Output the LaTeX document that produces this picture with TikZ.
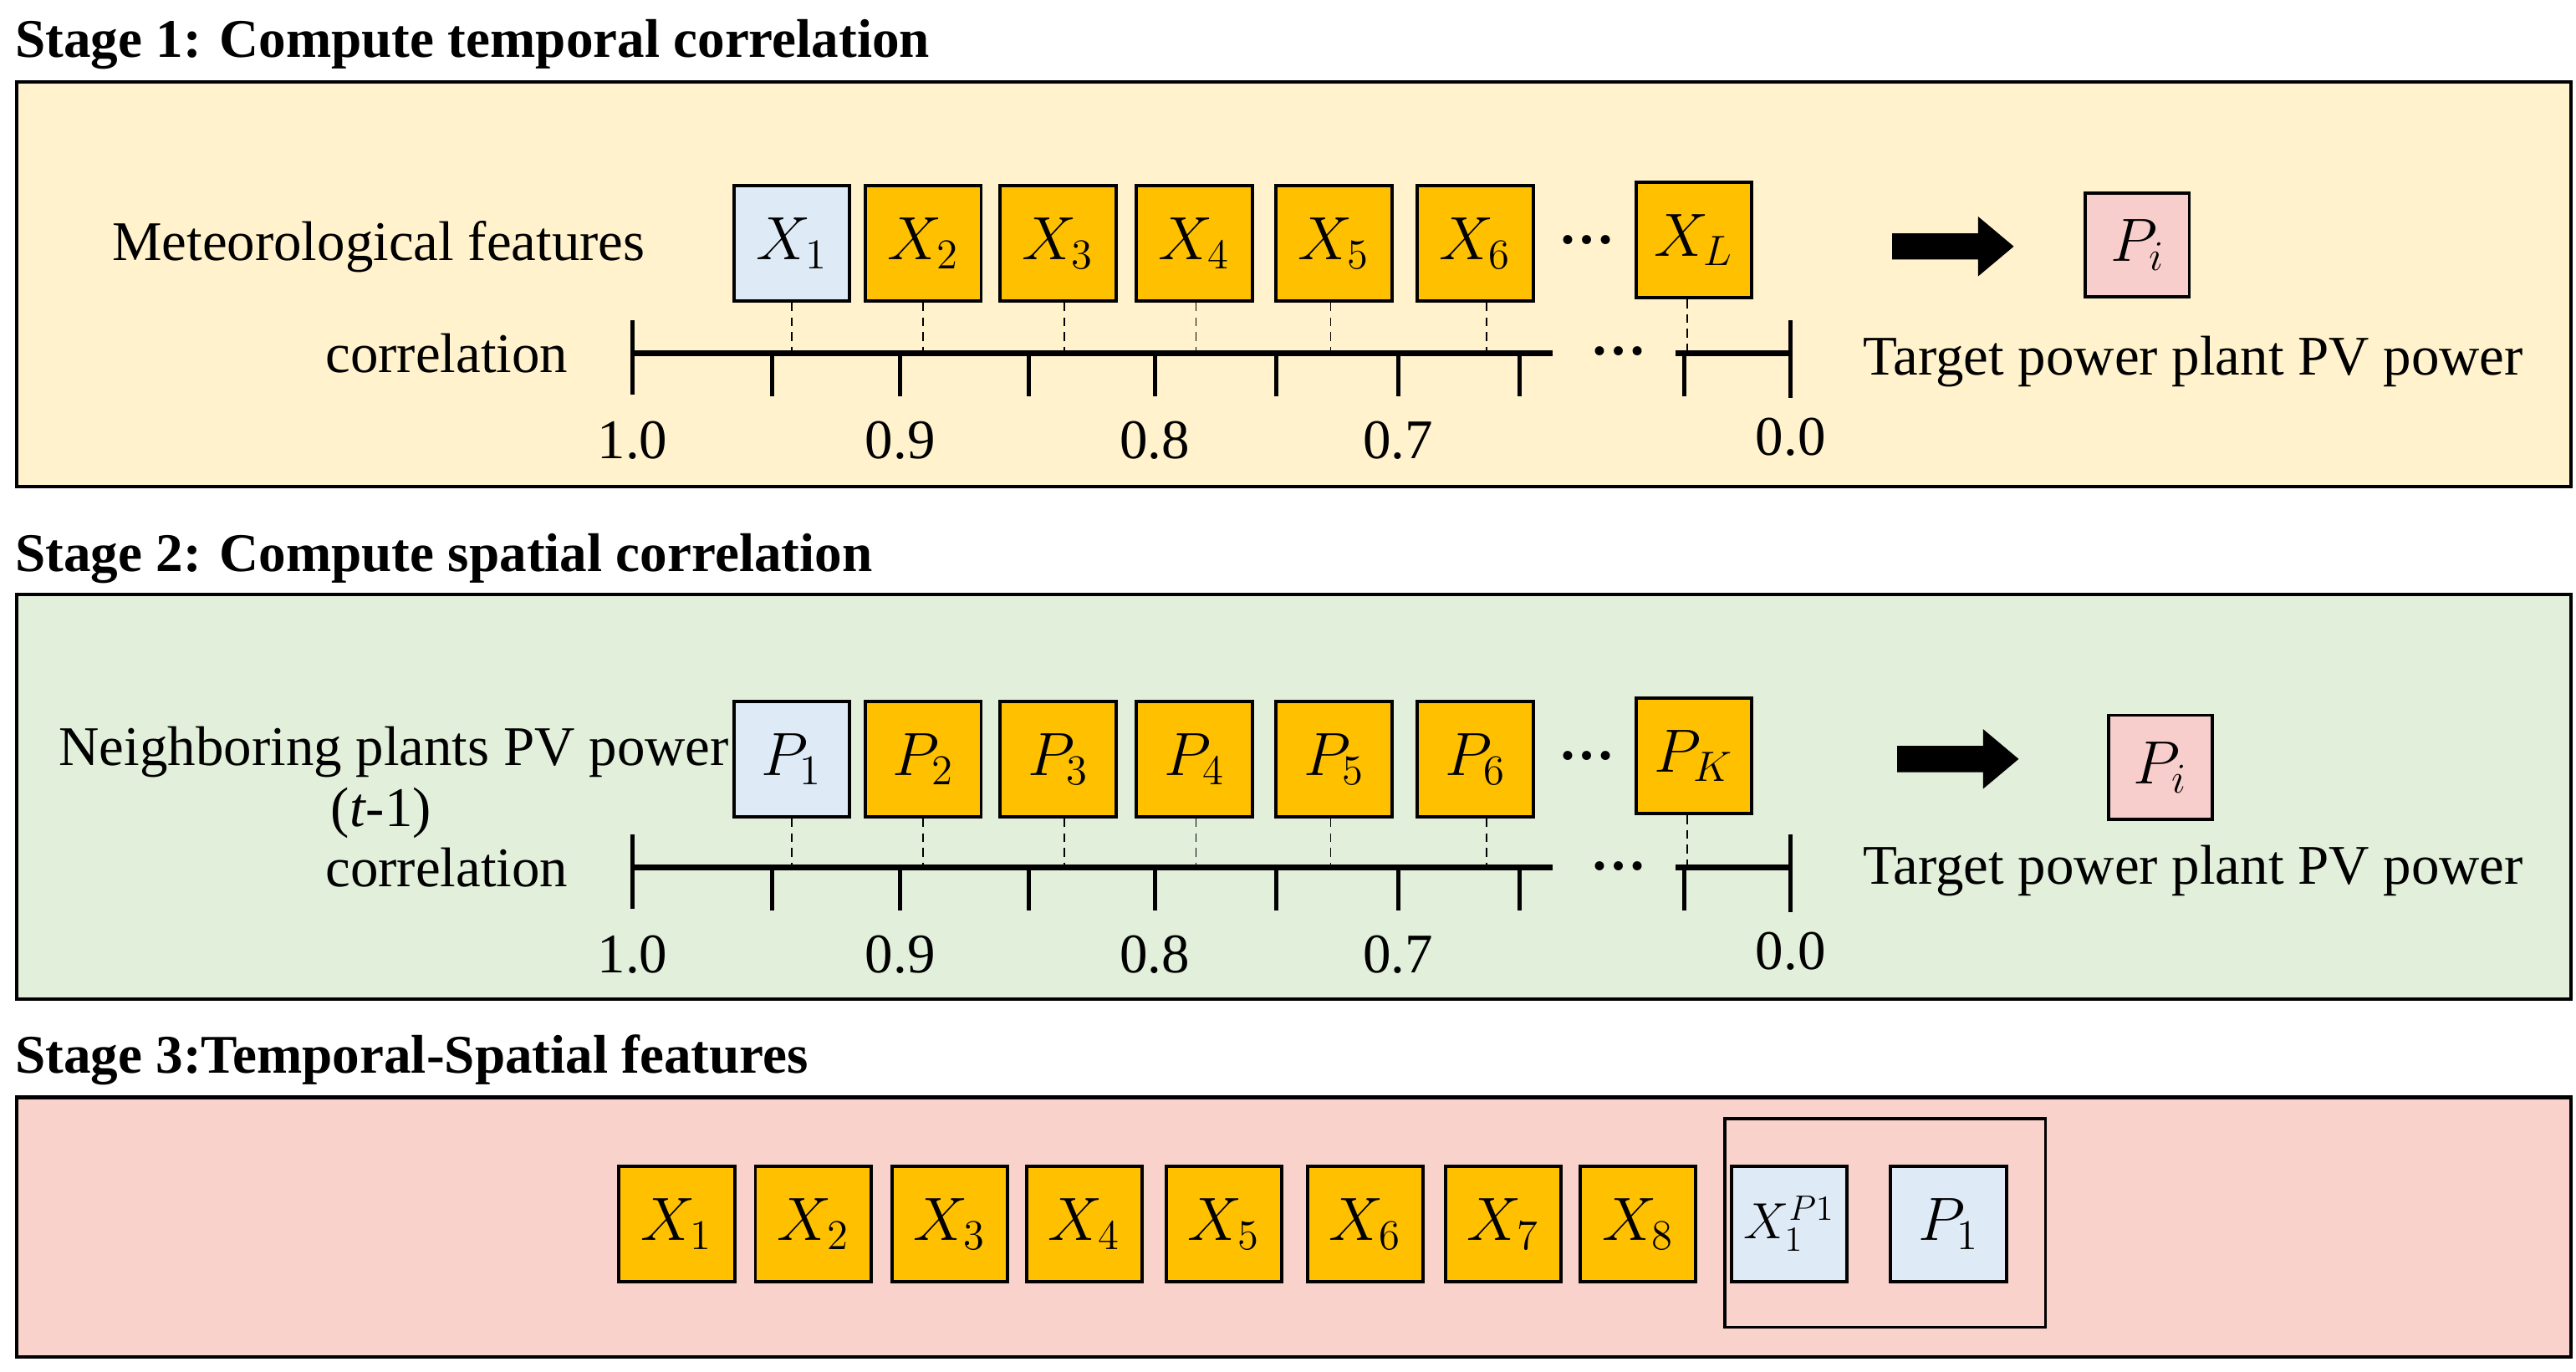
\documentclass[tikz,border=0pt]{standalone}
\usepackage{fontspec}
\setmainfont{Liberation Serif}
\usetikzlibrary{shapes.arrows}
\definecolor{org}{HTML}{FFC000}
\definecolor{lblue}{HTML}{DEEBF7}
\definecolor{pyel}{HTML}{FFF2CC}
\definecolor{pgrn}{HTML}{E2EFDA}
\definecolor{ppink}{HTML}{FAD2CC}
\definecolor{tpink}{HTML}{F8CECC}
\tikzset{
 panel/.style={draw=black,line width=1.2pt},
 box/.style={draw=black,line width=1.1pt,minimum width=1.38cm,minimum height=1.38cm,inner sep=0pt,font=\fontsize{20}{22}\selectfont},
 ob/.style={box,fill=org}, bb/.style={box,fill=lblue},
 pb/.style={box,fill=tpink,minimum width=1.24cm,minimum height=1.24cm},
 txt/.style={font=\fontsize{19}{22}\selectfont},
 ttl/.style={font=\bfseries\fontsize{18.5}{22}\selectfont,anchor=west},
 ax/.style={line width=1.8pt},
 tk/.style={line width=1.4pt},
 dsh/.style={densely dashed,line width=0.5pt},
 bigarrow/.style={single arrow,fill=black,minimum height=1.45cm,single arrow head extend=0.2cm,single arrow tip angle=80,inner sep=0pt,shape border rotate=0}
}
\begin{document}
\begin{tikzpicture}[x=0.0196cm,y=-0.0196cm]
\useasboundingbox (0,0) rectangle (1568,835);
% ---------- Stage 1 ----------
\node[ttl] (t1) at (3,27) {Stage 1: Compute temporal correlation};
\draw[panel,fill=pyel] (10,50) rectangle (1565,296);
\node[txt,anchor=east] (mf) at (399,150) {Meteorological features};
\node[bb] (a1) at (482,148) {$X_1$};
\node[ob] (a2) at (562,148) {$X_2$};
\node[ob] (a3) at (644,148) {$X_3$};
\node[ob] (a4) at (727,148) {$X_4$};
\node[ob] (a5) at (812,148) {$X_5$};
\node[ob] (a6) at (898,148) {$X_6$};
\node[ob] (aL) at (1031,146) {$X_L$};
\node[txt] (ad) at (966,146) {\textbf{\dots}};
\node[bigarrow] (ar1) at (1184,150) {\rule{0pt}{0.3cm}};
\node[pb] (pi1) at (1301,149) {$P_i$};
\node[txt] (tg1) at (1335,220) {Target power plant PV power};
\node[txt,anchor=east] (c1) at (352,215) {correlation};
\draw[ax] (385,215) -- (945,215); \draw[ax] (1020,215) -- (1090,215);
\draw[tk] (385,195) -- (385,240); \draw[tk] (1090,195) -- (1090,242);
\foreach \x in {470,548,626,703,777,851,925,1025} \draw[tk] (\x,215) -- (\x,241);
\node[txt] (ad2) at (985,214) {\textbf{\dots}};
\foreach \n/\x in {a1/482,a2/562,a3/648,a4/728,a5/810,a6/905,aL/1027}{
 \coordinate (\n b) at (\x,215);
 \draw[dsh] (\n.south -| \n b) -- (\n b);}
\node[txt] (l10) at (385,268) {1.0};
\node[txt] (l09) at (548,268) {0.9};
\node[txt] (l08) at (703,268) {0.8};
\node[txt] (l07) at (851,268) {0.7};
\node[txt] (l00) at (1090,266) {0.0};
% ---------- Stage 2 ----------
\node[ttl] (t2) at (3,340) {Stage 2: Compute spatial correlation};
\draw[panel,fill=pgrn] (10,362) rectangle (1565,608);
\node[txt,anchor=east] (np) at (450,458) {Neighboring plants PV power};
\node[txt] (tm) at (232,495) {(\textit{t}-1)};
\node[bb] (b1) at (482,462) {$P_1$};
\node[ob] (b2) at (562,462) {$P_2$};
\node[ob] (b3) at (644,462) {$P_3$};
\node[ob] (b4) at (727,462) {$P_4$};
\node[ob] (b5) at (812,462) {$P_5$};
\node[ob] (b6) at (898,462) {$P_6$};
\node[ob] (bK) at (1031,460) {$P_K$};
\node[txt] (bd) at (966,460) {\textbf{\dots}};
\node[bigarrow] (ar2) at (1187,462) {\rule{0pt}{0.3cm}};
\node[pb] (pi2) at (1315,467) {$P_i$};
\node[txt] (tg2) at (1335,530) {Target power plant PV power};
\node[txt,anchor=east] (c2) at (352,528) {correlation};
\draw[ax] (385,528) -- (945,528); \draw[ax] (1020,528) -- (1090,528);
\draw[tk] (385,508) -- (385,553); \draw[tk] (1090,508) -- (1090,555);
\foreach \x in {470,548,626,703,777,851,925,1025} \draw[tk] (\x,528) -- (\x,554);
\node[txt] (bd2) at (985,527) {\textbf{\dots}};
\foreach \n/\x in {b1/482,b2/562,b3/648,b4/728,b5/810,b6/905,bK/1027}{
 \coordinate (\n b) at (\x,528);
 \draw[dsh] (\n.south -| \n b) -- (\n b);}
\node[txt] (m10) at (385,581) {1.0};
\node[txt] (m09) at (548,581) {0.9};
\node[txt] (m08) at (703,581) {0.8};
\node[txt] (m07) at (851,581) {0.7};
\node[txt] (m00) at (1090,579) {0.0};
% ---------- Stage 3 ----------
\node[ttl] (t3) at (3,645) {Stage 3:Temporal-Spatial features};
\draw[panel,fill=ppink] (10,668) rectangle (1565,826);
\foreach \i/\x in {1/412,2/495,3/578,4/660,5/745,6/831,7/915,8/997}
 \node[ob] (c\i) at (\x,745) {$X_{\i}$};
\draw[line width=1pt] (1050,681) rectangle (1245,808);
\node[bb,font=\fontsize{17}{20}\selectfont] (cx) at (1089,745) {$X_1^{P1}$};
\node[bb] (cp) at (1186,745) {$P_1$};
\end{tikzpicture}
\end{document}
